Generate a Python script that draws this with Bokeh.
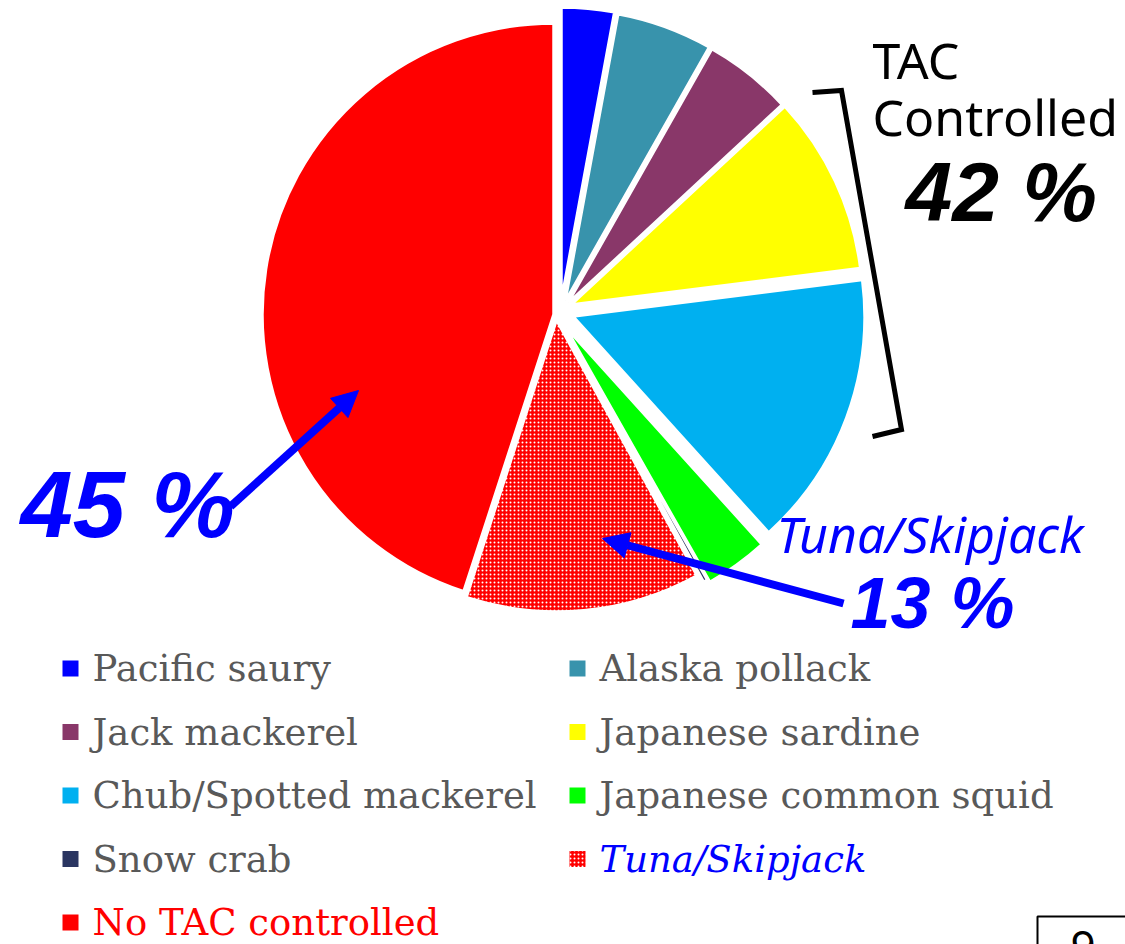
import numpy as np
from bokeh.plotting import figure
from bokeh.models import ColumnDataSource, Range1d, Arrow, NormalHead
from bokeh.core.properties import value
from bokeh.embed import file_html
from bokeh.resources import INLINE

# ---------------- data ----------------
categories = ["Pacific saury", "Alaska pollack", "Jack mackerel", "Japanese sardine",
              "Chub/Spotted mackerel", "Japanese common squid", "Snow crab",
              "Tuna/Skipjack", "No TAC controlled"]
shares = [2.9, 5.3, 4.9, 9.9, 15.3, 3.5, 0.2, 13.0, 45.0]
colors = ["#0000FF", "#3893AC", "#893769", "#FFFF00", "#00B0F0",
          "#00FF00", "#2A3561", "#FF0000", "#FF0000"]
tac_title = ["TAC", "Controlled"]
tac_pct = "42 %"
no_tac_pct = "45 %"
tuna_label = "Tuna/Skipjack"
tuna_pct = "13 %"
page_no = "9"

# ---------------- style / layout ----------------
W, H = 1125, 944
def Y(ypix):
    return H - ypix

cx, cy, R = 553, 314, 291
# explode offsets of each slice (pixels, right / down)
explode = [(8, -16), (12, -14), (15, -12), (18, -10), (20, 2), (13, 14), (10, 12), (3, 6), (0, 0)]
hatches = [" "] * 7 + ["dot", " "]

p = figure(width=W, height=H, x_range=Range1d(0, W), y_range=Range1d(0, H),
           x_axis_type=None, y_axis_type=None, toolbar_location=None,
           output_backend="svg", min_border=0, outline_line_color=None,
           background_fill_color="white", border_fill_color="white")
p.xgrid.visible = False
p.ygrid.visible = False

tot = float(sum(shares))
cum = np.concatenate([[0.0], np.cumsum(shares)]) / tot * 360.0
a0, a1 = cum[:-1], cum[1:]
src = ColumnDataSource(dict(
    x=[cx + dx for dx, dy in explode],
    y=[Y(cy + dy) for dx, dy in explode],
    start=np.radians(90 - a1), end=np.radians(90 - a0),
    color=colors, hatch=hatches, name=categories,
))
p.wedge(x="x", y="y", radius=R, start_angle="start", end_angle="end",
        fill_color="color", line_color="white", line_width=2.5, source=src,
        hatch_pattern="hatch", hatch_color="white", hatch_scale=4, hatch_weight=1.5)

# ---------------- legend (manual, 2 columns) ----------------
n = len(categories)
cols = [i % 2 for i in range(n)]
rows = [i // 2 for i in range(n)]
sq_x = [[70, 577][c] for c in cols]
tx_x = [[92, 599][c] for c in cols]
row_y = [668 + 63.5 * r for r in rows]
text_colors = ["#595959"] * 7 + ["#0000FF", "#FF0000"]
font_styles = ["normal"] * 7 + ["italic", "normal"]
lsrc = ColumnDataSource(dict(
    sx=sq_x, tx=tx_x, sy=[Y(v) for v in row_y], ty=[Y(v) for v in row_y],
    color=colors, hatch=hatches, label=categories, tcolor=text_colors, fstyle=font_styles,
))
p.rect(x="sx", y="sy", width=16, height=16, fill_color="color", line_color=None,
       hatch_pattern="hatch", hatch_color="white", hatch_scale=4, hatch_weight=1.5, source=lsrc)
p.text(x="tx", y="ty", text="label", text_color="tcolor", text_font_style="fstyle",
       text_font=value("DejaVu Serif"), text_font_size="37px", text_baseline="middle",
       source=lsrc)

# ---------------- annotations ----------------
# bracket
p.line(x=[812, 841, 901, 872], y=[Y(92), Y(90), Y(429), Y(436)],
       line_color="black", line_width=5, line_join="miter")

p.text(x=[872, 872], y=[Y(59), Y(116)], text=tac_title, text_color="black",
       text_font=value("Noto Sans"), text_font_size="50px", text_baseline="middle")
p.text(x=[905], y=[Y(191)], text=[tac_pct], text_color="black",
       text_font=value("Liberation Sans"), text_font_style="bold italic",
       text_font_size="84px", text_baseline="middle")
p.text(x=[20], y=[Y(504)], text=[no_tac_pct], text_color="#0000FF",
       text_font=value("Liberation Sans"), text_font_style="bold italic",
       text_font_size="94px", text_baseline="middle")
p.text(x=[850], y=[Y(602)], text=[tuna_pct], text_color="#0000FF",
       text_font=value("Liberation Sans"), text_font_style="bold italic",
       text_font_size="72px", text_baseline="middle")
p.text(x=[776], y=[Y(533)], text=[tuna_label], text_color="#0000FF",
       text_font=value("Noto Sans"), text_font_style="italic",
       text_font_size="50px", text_baseline="middle")

# arrows
p.add_layout(Arrow(end=NormalHead(size=26, fill_color="#0000FF", line_color="#0000FF"),
                   x_start=230, y_start=Y(506), x_end=358, y_end=Y(390),
                   line_color="#0000FF", line_width=8))
p.add_layout(Arrow(end=NormalHead(size=26, fill_color="#0000FF", line_color="#0000FF"),
                   x_start=843, y_start=Y(603), x_end=602, y_end=Y(538),
                   line_color="#0000FF", line_width=8))

# page-number box at bottom right (partly cut off)
p.line(x=[1037, 1037, 1130], y=[Y(960), Y(916), Y(916)], line_color="black", line_width=2)
p.text(x=[1070], y=[Y(930)], text=[page_no], text_color="black",
       text_font=value("Noto Sans"), text_font_size="44px", text_baseline="top")

open("out.html", "w").write(file_html(p, INLINE))
